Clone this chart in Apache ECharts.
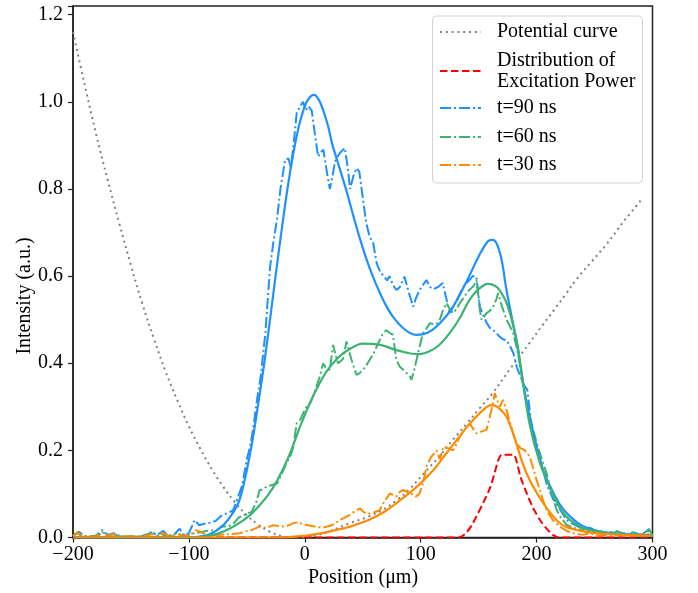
<!DOCTYPE html>
<html>
<head>
<meta charset="utf-8">
<script src="https://cdn.jsdelivr.net/npm/echarts@6/dist/echarts.min.js"></script>
<style>
html,body{margin:0;padding:0;background:#fff;}
#chart{width:698px;height:593px;}
</style>
</head>
<body>
<div id="chart"></div>
<script>
// ---- data (x in µm, intensity in a.u.) ----
const xTicks = [-200, -100, 0, 100, 200, 300];
const yTicks = [0.0, 0.2, 0.4, 0.6, 0.8, 1.0, 1.2];

const potentialCurve = [
  [-200,1.16],[-190,1.04],[-180,0.925],[-170,0.82],[-160,0.72],[-150,0.625],[-140,0.535],[-130,0.455],
  [-120,0.38],[-110,0.315],[-100,0.255],[-90,0.203],[-80,0.156],[-70,0.115],[-60,0.08],[-50,0.051],
  [-40,0.029],[-30,0.013],[-20,0.003],[-10,0.0],[0,0.001],
  [10,0.005],[20,0.013],[39,0.033],[55,0.048],[67,0.063],[80,0.087],[90,0.11],[103,0.148],
  [116,0.186],[128,0.225],[140,0.262],[151,0.297],[162,0.331],[178,0.39],[194,0.447],[205,0.487],
  [215,0.522],[225,0.558],[235,0.595],[247,0.632],[260,0.672],[275,0.725],[291,0.777]
];

const excitationPower = [
  [-200,0],[130,0],[135,0.002],[140,0.013],[144,0.028],[148,0.048],[154,0.08],[160,0.115],
  [164,0.15],[167,0.178],[170,0.19],[180,0.19],[183,0.172],[186,0.14],[191,0.105],[197,0.068],
  [203,0.04],[209,0.019],[214,0.006],[219,0.0],[300,0]
];

const t90Data = [
  [-200,0.005],[-195,0.013],[-190,0.003],[-185,0.002],[-180,0.004],[-175,0.017],[-170,0.006],[-165,0.01],
  [-160,0.004],[-155,0.002],[-150,0.003],[-145,0.002],[-140,0.004],[-135,0.008],[-132,0.013],[-128,0.005],
  [-122,0.015],[-118,0.004],[-113,0.006],[-108,0.02],[-104,0.005],[-100,0.01],[-95,0.04],[-91,0.028],
  [-86,0.032],[-82,0.034],[-77,0.038],[-72,0.05],[-67,0.056],[-62,0.062],[-58,0.09],[-54,0.12],
  [-50,0.18],[-47,0.21],[-44,0.26],[-41,0.32],[-38,0.37],[-34,0.47],[-30,0.62],[-27,0.68],
  [-24,0.73],[-21,0.8],[-17,0.867],[-14,0.87],[-12,0.848],[-9,0.92],[-7,0.974],[-4,0.99],
  [-1.5,1.0],[1,0.98],[3,0.99],[6,0.98],[9,0.92],[11.5,0.874],[14,0.885],[16,0.89],
  [19,0.84],[21.6,0.8],[24,0.83],[26,0.863],[30,0.882],[34.5,0.894],[37,0.85],[39,0.8],
  [42,0.83],[44.6,0.848],[47,0.84],[50,0.78],[53,0.722],[56,0.69],[59,0.676],[62,0.63],
  [65,0.61],[68,0.6],[71,0.59],[73,0.6],[76,0.58],[79,0.568],[82,0.575],[86,0.599],
  [90,0.56],[93.5,0.53],[96,0.55],[99,0.568],[102,0.58],[105,0.591],[108,0.575],[111,0.57],
  [115,0.575],[119,0.584],[122,0.55],[125,0.515],[128,0.53],[131,0.545],[134,0.56],[137,0.576],
  [140,0.585],[142,0.591],[145,0.6],[148,0.599],[151,0.53],[154,0.51],[157,0.492],[160,0.48],
  [162.5,0.476],[165,0.47],[168,0.461],[171,0.455],[174,0.453],[177,0.44],[180,0.423],[183,0.39],
  [186,0.37],[189,0.35],[192,0.339],[195,0.27],[198,0.23],[201,0.2],[205,0.16],[209,0.12],
  [214,0.09],[220,0.065],[226,0.04],[232,0.03],[238,0.022],[243,0.025],[248,0.02],[252,0.01],
  [256,0.014],[260,0.008],[265,0.012],[270,0.007],[275,0.01],[280,0.006],[285,0.008],[290,0.005],
  [296,0.017],[300,0.006]
];

const t60Data = [
  [-200,0.004],[-196,0.01],[-192,0.002],[-185,0.003],[-178,0.005],[-174,0.012],[-170,0.004],[-165,0.008],
  [-160,0.003],[-150,0.002],[-140,0.003],[-134,0.007],[-130,0.01],[-126,0.004],[-120,0.006],[-115,0.003],
  [-110,0.012],[-106,0.004],[-100,0.006],[-95,0.01],[-90,0.012],[-85,0.015],[-80,0.016],[-76,0.017],
  [-72,0.025],[-67,0.025],[-62,0.03],[-57,0.046],[-53,0.05],[-50,0.056],[-46,0.058],[-42,0.08],
  [-39,0.109],[-36,0.11],[-33,0.117],[-29,0.12],[-24,0.124],[-20,0.145],[-16,0.17],[-12,0.19],
  [-10,0.208],[-7,0.262],[-4,0.27],[-1.5,0.285],[1.5,0.3],[5,0.31],[8,0.33],[10,0.346],
  [13,0.37],[15.8,0.4],[18,0.39],[21.6,0.385],[24.4,0.442],[26.5,0.42],[28.7,0.4],[31,0.405],
  [33,0.41],[36,0.45],[38,0.43],[40.3,0.408],[42.5,0.39],[44.6,0.373],[47.5,0.378],[50.3,0.385],
  [53,0.395],[56,0.408],[59,0.42],[62,0.438],[65,0.455],[67.6,0.469],[70.5,0.476],[73,0.47],
  [76,0.465],[79,0.408],[82,0.392],[85,0.385],[88,0.377],[90.6,0.37],[92,0.362],[94,0.38],
  [96.4,0.408],[99,0.438],[102,0.469],[105,0.48],[108,0.492],[111,0.49],[113.6,0.49],[116.5,0.5],
  [119,0.52],[122.3,0.538],[125,0.525],[128,0.515],[131,0.525],[133.8,0.538],[137,0.55],[139.6,0.561],
  [142.5,0.57],[145.3,0.576],[148.2,0.59],[150,0.55],[151,0.522],[152.5,0.5],[155,0.508],[156.8,0.515],
  [159.6,0.52],[162.5,0.53],[165,0.545],[166.9,0.561],[169,0.54],[171.2,0.522],[174,0.5],[177,0.485],
  [179.8,0.469],[182.7,0.438],[185.6,0.4],[188.4,0.346],[192,0.3],[197,0.247],[202,0.2],[208.6,0.147],
  [213,0.1],[217.3,0.063],[221,0.045],[226,0.029],[232,0.022],[238,0.018],[243,0.02],[248,0.012],
  [252,0.016],[256,0.01],[262,0.014],[266,0.008],[269,0.015],[274,0.01],[278,0.006],[283,0.012],
  [288,0.008],[293,0.005],[297,0.02],[300,0.004]
];

const t30Data = [
  [-200,0.003],[-196,0.012],[-192,0.002],[-186,0.003],[-180,0.002],[-175,0.012],[-170,0.004],[-166,0.008],
  [-160,0.002],[-150,0.003],[-140,0.002],[-132,0.008],[-128,0.003],[-122,0.01],[-117,0.003],[-110,0.008],
  [-105,0.003],[-100,0.005],[-96,0.012],[-93.5,0.017],[-88,0.01],[-82,0.005],[-76,0.006],[-70,0.007],
  [-63,0.008],[-56,0.01],[-50,0.015],[-45,0.018],[-39,0.025],[-33,0.022],[-28,0.028],[-24,0.027],
  [-19,0.025],[-14,0.028],[-10,0.033],[-6,0.035],[-1.5,0.03],[3,0.028],[7,0.026],[10,0.025],
  [15,0.022],[19,0.025],[22,0.027],[26,0.032],[30,0.04],[34,0.045],[39,0.052],[43,0.06],
  [47.5,0.067],[50,0.06],[53,0.055],[56,0.055],[60,0.058],[64.7,0.063],[68,0.08],[73.4,0.101],
  [76,0.098],[79,0.094],[82,0.105],[85,0.109],[88,0.105],[92,0.1],[96,0.094],[99,0.101],
  [102,0.124],[105,0.163],[109,0.185],[113.7,0.2],[116.5,0.18],[119.4,0.208],[124,0.205],[128,0.2],
  [131,0.215],[133.8,0.232],[137,0.245],[140,0.255],[142.4,0.262],[145,0.25],[148,0.239],[152,0.243],
  [156.8,0.247],[159,0.27],[161,0.293],[164,0.331],[166,0.315],[168.3,0.3],[171,0.316],[174,0.293],
  [178,0.254],[182.7,0.216],[186,0.205],[190,0.2],[194,0.186],[197,0.16],[200,0.132],[205,0.09],
  [208.6,0.063],[214,0.04],[220,0.025],[226,0.015],[232,0.01],[240,0.006],[246,0.01],[252,0.004],
  [258,0.006],[265,0.004],[272,0.007],[280,0.003],[288,0.005],[295,0.01],[300,0.003]
];

const t90Fit = [
  [-200,0],[-100,0],[-88,0.003],[-80,0.01],[-72,0.024],[-65,0.045],[-58,0.075],[-54,0.108],
  [-50,0.155],[-45,0.225],[-40,0.31],[-35,0.4],[-30,0.5],[-25,0.605],[-20,0.705],[-15,0.8],
  [-10,0.88],[-5,0.945],[0,0.99],[4,1.01],[8,1.016],[12,1.005],[16,0.98],[20,0.945],
  [24,0.9],[30,0.848],[36,0.795],[42,0.737],[48,0.682],[55,0.625],[62,0.578],[69,0.538],
  [76,0.507],[86,0.478],[96,0.465],[106,0.47],[116,0.49],[128,0.53],[140,0.59],[150,0.645],
  [158,0.68],[162,0.683],[166,0.672],[170,0.635],[174,0.568],[179,0.5],[183,0.445],[188,0.36],
  [193,0.29],[197,0.24],[205,0.16],[214,0.105],[221,0.072],[229,0.048],[240,0.026],[257,0.013],
  [280,0.007],[300,0.005]
];

const t60Fit = [
  [-200,0],[-95,0],[-85,0.003],[-75,0.009],[-65,0.02],[-56,0.034],[-47,0.052],[-39,0.074],
  [-31,0.1],[-24,0.13],[-14,0.185],[-4,0.255],[5,0.312],[13,0.355],[19,0.382],[27,0.408],
  [36,0.428],[50,0.445],[65,0.442],[79,0.43],[90,0.423],[99,0.421],[108,0.428],[116,0.442],
  [125,0.469],[134,0.505],[142,0.545],[150,0.57],[158,0.582],[164,0.578],[168,0.568],[173,0.545],
  [177,0.515],[183,0.45],[187,0.38],[194,0.26],[203,0.17],[214,0.1],[222,0.06],[229,0.04],
  [240,0.022],[257,0.012],[280,0.006],[300,0.004]
];

const t30Fit = [
  [-200,0],[-20,0],[-10,0.002],[0,0.004],[10,0.008],[20,0.013],[39,0.025],[55,0.04],
  [68,0.058],[82,0.085],[96,0.115],[111,0.155],[120,0.186],[130,0.22],[140,0.254],[150,0.283],
  [157,0.3],[161,0.304],[166,0.3],[174,0.277],[182,0.22],[188,0.17],[194,0.132],[203,0.09],
  [210,0.063],[218,0.038],[225,0.025],[243,0.013],[260,0.008],[300,0.004]
];

// ---- styles ----
const FONT = '"Liberation Serif", "Times New Roman", serif';
const C_BLUE = '#1E90FF', C_GREEN = '#3CB371', C_ORANGE = '#FF8C00', C_RED = '#FF0000', C_GRAY = '#808080';
const DASHDOT = [11, 3, 2, 3];
const DOTTED = [2, 3.8];
const DASHED = [7.5, 3.5];

const chart = echarts.init(document.getElementById('chart'), null, {renderer: 'canvas'});

function line(name, data, color, type, width, smooth, z) {
  return {
    name: name, type: 'line', data: data, showSymbol: false, symbol: 'none',
    smooth: smooth, clip: true, z: z || 2, animation: false,
    lineStyle: {color: color, width: width, type: type, cap: 'butt'}
  };
}

const legendRows = [
  {text: 'Potential curve', y: 32, color: C_GRAY, dash: DOTTED, ly: 32},
  {text: 'Distribution of\nExcitation Power', y: 71, color: C_RED, dash: DASHED, ly: 71},
  {text: 't=90 ns', y: 108, color: C_BLUE, dash: DASHDOT, ly: 108},
  {text: 't=60 ns', y: 137, color: C_GREEN, dash: DASHDOT, ly: 137},
  {text: 't=30 ns', y: 165, color: C_ORANGE, dash: DASHDOT, ly: 165}
];

const graphics = [
  {type: 'rect', z: 100, shape: {x: 432.5, y: 16, width: 210, height: 167, r: 4},
   style: {fill: 'rgba(255,255,255,0.85)', stroke: '#d3d3d3', lineWidth: 1}}
];
legendRows.forEach(r => {
  graphics.push({type: 'line', z: 101, shape: {x1: 440, y1: r.ly, x2: 481, y2: r.ly},
    style: {stroke: r.color, lineWidth: 2, lineDash: r.dash}});
  graphics.push({type: 'text', z: 101, x: 497, y: r.y,
    style: {text: r.text, font: '20px ' + FONT, fill: '#000', textAlign: 'left',
            verticalAlign: 'middle', textVerticalAlign: 'middle', lineHeight: 21}});
});
graphics.push({type: 'text', z: 101, x: 25, y: 296, rotation: Math.PI / 2,
  style: {text: 'Intensity (a.u.)', font: '20px ' + FONT, fill: '#000', textAlign: 'center',
          verticalAlign: 'middle', textVerticalAlign: 'middle'}});
graphics.push({type: 'text', z: 101, x: 363, y: 578,
  style: {text: 'Position (\u03bcm)', font: '20px ' + FONT, fill: '#000', textAlign: 'center',
          verticalAlign: 'middle', textVerticalAlign: 'middle'}});

const option = {
  animation: false,
  backgroundColor: '#fff',
  grid: {left: 73, right: 45.5, top: 6, bottom: 55.5, show: true, borderColor: '#222', borderWidth: 1.5},
  xAxis: {
    type: 'value', min: xTicks[0], max: xTicks[xTicks.length - 1], interval: 100,
    axisLine: {show: true, onZero: false, lineStyle: {color: '#222', width: 1.5}},
    axisTick: {show: true, inside: false, length: 5, lineStyle: {color: '#222', width: 1.2}},
    axisLabel: {margin: 7, color: '#000', fontFamily: FONT, fontSize: 20,
      formatter: v => (xTicks.indexOf(v) >= 0 ? String(v).replace('-', '\u2212') : '')},
    splitLine: {show: false}
  },
  yAxis: {
    type: 'value', min: 0, max: 1.22, interval: 0.2,
    axisLine: {show: true, onZero: false, lineStyle: {color: '#222', width: 1.5}},
    axisTick: {show: true, inside: false, length: 5, lineStyle: {color: '#222', width: 1.2}},
    axisLabel: {margin: 10, color: '#000', fontFamily: FONT, fontSize: 20,
      formatter: v => (yTicks.some(t => Math.abs(t - v) < 1e-6) ? v.toFixed(1) : '')},
    splitLine: {show: false}
  },
  series: [
    line('Potential curve', potentialCurve, C_GRAY, DOTTED, 2, 0.4, 2),
    line('Distribution of Excitation Power', excitationPower, C_RED, DASHED, 2, 0.3, 3),
    line('t=90 ns', t90Data, C_BLUE, DASHDOT, 2, false, 4),
    line('t=60 ns', t60Data, C_GREEN, DASHDOT, 2, false, 4),
    line('t=30 ns', t30Data, C_ORANGE, DASHDOT, 2, false, 4),
    line('t=90 fit', t90Fit, C_BLUE, 'solid', 2.2, 0.35, 5),
    line('t=60 fit', t60Fit, C_GREEN, 'solid', 2.2, 0.35, 5),
    line('t=30 fit', t30Fit, C_ORANGE, 'solid', 2.2, 0.35, 5)
  ],
  graphic: graphics
};
chart.setOption(option);
</script>
</body>
</html>
